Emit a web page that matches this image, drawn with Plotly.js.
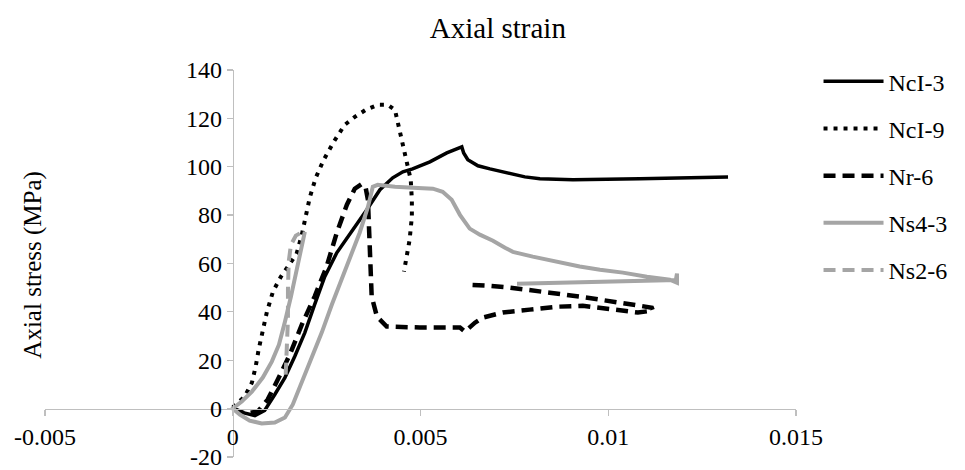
<!DOCTYPE html>
<html>
<head>
<meta charset="utf-8">
<script src="https://cdn.plot.ly/plotly-3.0.1.min.js"></script>
<style>html,body{margin:0;padding:0;background:#fff;}#chart{width:965px;height:470px;}</style>
</head>
<body>
<div id="chart"></div>
<script>
// ---- data (axial strain, axial stress MPa) ----
const seriesNames = ["NcI-3", "NcI-9", "Nr-6", "Ns4-3", "Ns2-6"];

const ncI3X = [0, 0.00027, 0.00059, 0.00085, 0.00112, 0.00139, 0.00165, 0.00192, 0.00218, 0.00245, 0.00277, 0.00320, 0.00357, 0.00392, 0.00426, 0.00453, 0.00479, 0.00525, 0.00570, 0.00610, 0.00615, 0.00626, 0.00653, 0.00685, 0.00730, 0.00778, 0.00818, 0.00906, 0.01084, 0.01319];
const ncI3Y = [0, -1.7, -2.9, -0.8, 5.8, 12.8, 21.5, 31.4, 43, 54.5, 64.4, 73.9, 82.2, 90.5, 95.4, 97.9, 99.1, 102, 105.7, 108.2, 105.7, 102.9, 100.4, 99.1, 97.5, 95.8, 95, 94.6, 95, 95.8];

const ncI9X = [0, 0.00032, 0.00051, 0.00061, 0.00069, 0.00077, 0.00091, 0.00107, 0.00128, 0.00152, 0.00170, 0.00184, 0.00194, 0.00205, 0.00221, 0.00242, 0.00269, 0.00298, 0.00325, 0.00354, 0.00386, 0.00413, 0.00432, 0.00440, 0.00450, 0.00464, 0.00474, 0.00477, 0.00477, 0.00471, 0.00464, 0.00456];
const ncI9Y = [0.4, 5, 10.7, 17.3, 24.4, 30.6, 40, 48.3, 54.5, 59.9, 64, 71.9, 79.3, 87.2, 95.4, 102.8, 110.3, 117.3, 120.6, 123.5, 125.6, 125.6, 123.5, 118.1, 109.9, 102, 94.6, 86.3, 79.3, 69.8, 63.6, 56.6];

const nr6X = [0, 0.00032, 0.00067, 0.00093, 0.0012, 0.00152, 0.00184, 0.00218, 0.0025, 0.00277, 0.00304, 0.00325, 0.00344, 0.00354, 0.0036, 0.00362, 0.00365, 0.00368, 0.0037, 0.00384, 0.0041, 0.00498, 0.00605, 0.00618, 0.00645, 0.00666, 0.00719, 0.00791, 0.00863, 0.00932, 0.0097, 0.01023, 0.01079, 0.01119, 0.01116, 0.01084, 0.01031, 0.00978, 0.00924, 0.00844, 0.00783, 0.00738, 0.00677, 0.00623];
const nr6Y = [0, -2.1, -1.2, 3.7, 12, 22.3, 34.7, 46.3, 58.7, 72.7, 84.3, 90.9, 92.9, 91.3, 86.3, 78.1, 67.7, 57.4, 46.3, 38, 33.9, 33.5, 33.5, 31.8, 35.5, 37.6, 39.7, 40.9, 42.1, 42.5, 41.7, 40.5, 39.7, 40.5, 41.7, 42.5, 43.8, 45, 46.3, 47.9, 49.2, 50, 50.8, 51.2];

const ns43X = [0.00192, 0.00184, 0.0017, 0.00155, 0.00139, 0.00123, 0.00104, 0.0008, 0.00051, 0.00024, 0, 0.00019, 0.00045, 0.00077, 0.00112, 0.00139, 0.0016, 0.00184, 0.00213, 0.00237, 0.00264, 0.00304, 0.00338, 0.0036, 0.00373, 0.00386, 0.00432, 0.0048, 0.00533, 0.00559, 0.00583, 0.00605, 0.00631, 0.00658, 0.00693, 0.00725, 0.00746, 0.00799, 0.00836, 0.0089, 0.00924, 0.00978, 0.01039, 0.01103, 0.01164, 0.01183, 0.01183, 0.0118, 0.00978, 0.00757];
const ns43Y = [73.1, 66.9, 56.6, 46.3, 35.9, 26.4, 19.4, 12.8, 7, 2.9, 0, -2.5, -5, -6.2, -5.8, -3.7, 1.7, 10.7, 22.3, 31.4, 43, 58.7, 72.7, 83.4, 91.7, 92.5, 91.7, 91.3, 90.9, 89.6, 86.3, 80.1, 74.4, 71.9, 69.4, 66.5, 64.8, 62.8, 61.5, 59.5, 58.7, 57.4, 56.2, 54.5, 53.3, 52, 55.8, 53.1, 52.5, 51.6];

const ns26X = [0.00141, 0.00144, 0.00147, 0.00147, 0.00149, 0.00155, 0.00168, 0.00186];
const ns26Y = [14, 24.4, 36.8, 49.2, 60.7, 67.7, 71.5, 73.1];

const xTickVals = [-0.005, 0, 0.005, 0.01, 0.015];
const xTickText = ["-0.005", "0", "0.005", "0.01", "0.015"];
const yTickVals = [-20, 0, 20, 40, 60, 80, 100, 120, 140];
const yTickText = ["-20", "0", "20", "40", "60", "80", "100", "120", "140"];

const chartTitle = "Axial strain";
const yTitle = "Axial stress (MPa)";

// ---- styling ----
const BLACK = "#000000";
const GRAY = "#a5a5a5";
const FONT = "Liberation Serif";

const traces = [
  {x: ncI3X, y: ncI3Y, name: seriesNames[0], line: {color: BLACK, width: 3.5}},
  {x: ncI9X, y: ncI9Y, name: seriesNames[1], line: {color: BLACK, width: 4, dash: "4px,6px"}},
  {x: nr6X, y: nr6Y, name: seriesNames[2], line: {color: BLACK, width: 4.5, dash: "12px,7px"}},
  {x: ns43X, y: ns43Y, name: seriesNames[3], line: {color: GRAY, width: 4}},
  {x: ns26X, y: ns26Y, name: seriesNames[4], line: {color: GRAY, width: 4, dash: "12px,7px"}}
].map((t, i) => Object.assign({type: "scatter", mode: "lines", legendgroup: "g" + i}, t));

const layout = {
  width: 965, height: 470,
  margin: {l: 45, r: 169, t: 70, b: 13},
  paper_bgcolor: "#fff", plot_bgcolor: "#fff",
  font: {family: FONT, size: 24, color: "#000"},
  title: {text: chartTitle, font: {family: FONT, size: 29, color: "#000"},
          x: 0.603, xref: "paper", xanchor: "center", y: 1 - 28 / 470, yref: "container", yanchor: "middle"},
  xaxis: {
    range: [-0.005, 0.015], anchor: "free", position: 0.125,
    tickvals: xTickVals, ticktext: xTickText, ticklabeloverflow: "allow",
    showgrid: false, zeroline: false, showline: true, linecolor: "#bfbfbf", linewidth: 1.3,
    ticks: "outside", ticklen: 6, tickcolor: "#bfbfbf", tickwidth: 1.3,
    tickfont: {family: FONT, size: 24, color: "#000"}
  },
  yaxis: {
    range: [-20.05, 140], anchor: "free", position: 0.25,
    tickvals: yTickVals, ticktext: yTickText, ticklabeloverflow: "allow",
    showgrid: false, zeroline: false, showline: true, linecolor: "#bfbfbf", linewidth: 1.3,
    ticks: "outside", ticklen: 6, tickcolor: "#bfbfbf", tickwidth: 1.3,
    tickfont: {family: FONT, size: 24, color: "#000"}
  },
  annotations: [{
    text: yTitle, xref: "paper", yref: "paper", x: -0.016, y: 0.497,
    xanchor: "center", yanchor: "middle", textangle: -90, showarrow: false,
    font: {family: FONT, size: 25, color: "#000"}
  }],
  legend: {
    x: 1.03, xanchor: "left", y: 1.028, yanchor: "top",
    font: {family: FONT, size: 24, color: "#000"},
    itemwidth: 60, tracegroupgap: 13, bgcolor: "rgba(0,0,0,0)"
  },
  showlegend: true
};

Plotly.newPlot("chart", traces, layout, {staticPlot: true, displayModeBar: false});
</script>
</body>
</html>
